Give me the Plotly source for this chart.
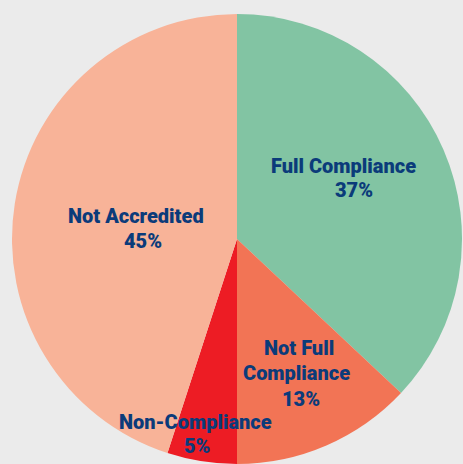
import plotly.graph_objects as go

# Accreditation status shares (percent)
categories = ["Full Compliance", "Not Full Compliance", "Non-Compliance", "Not Accredited"]
shares = [37, 13, 5, 45]
colors = ["#82C4A3", "#F27455", "#ED1C24", "#F8B398"]

W, H = 463, 464
TEXT_COLOR = "#0B3B7A"
FONT = "Roboto"

# Label line centres in pixels (one entry per text line), keyed by category
label_lines = {
    "Full Compliance": [("Full Compliance", 343, 166), ("{p}%", 354, 190)],
    "Not Full Compliance": [("Not Full", 299, 348), ("Compliance", 296, 373), ("{p}%", 301, 399)],
    "Non-Compliance": [("Non-Compliance", 195, 422), ("{p}%", 197, 446)],
    "Not Accredited": [("Not Accredited", 136, 216), ("{p}%", 143, 241)],
}

fig = go.Figure(
    go.Pie(
        labels=categories,
        values=shares,
        sort=False,
        direction="clockwise",
        rotation=0,
        marker=dict(colors=colors, line=dict(width=0)),
        textinfo="none",
        hoverinfo="label+percent",
        showlegend=False,
        domain=dict(x=[12 / W, 462 / W], y=[0, 1 - 14 / H]),
    )
)

annotations = []
for cat, p in zip(categories, shares):
    for txt, px, py in label_lines[cat]:
        annotations.append(
            dict(
                text=txt.format(p=p),
                x=px / W,
                y=1 - py / H,
                xref="paper",
                yref="paper",
                xanchor="center",
                yanchor="middle",
                showarrow=False,
                font=dict(family=FONT, size=20, color=TEXT_COLOR, weight=900),
            )
        )

fig.update_layout(
    width=W,
    height=H,
    margin=dict(l=0, r=0, t=0, b=0),
    paper_bgcolor="#EBEBEB",
    plot_bgcolor="#EBEBEB",
    annotations=annotations,
)

fig.write_html("out.html")
